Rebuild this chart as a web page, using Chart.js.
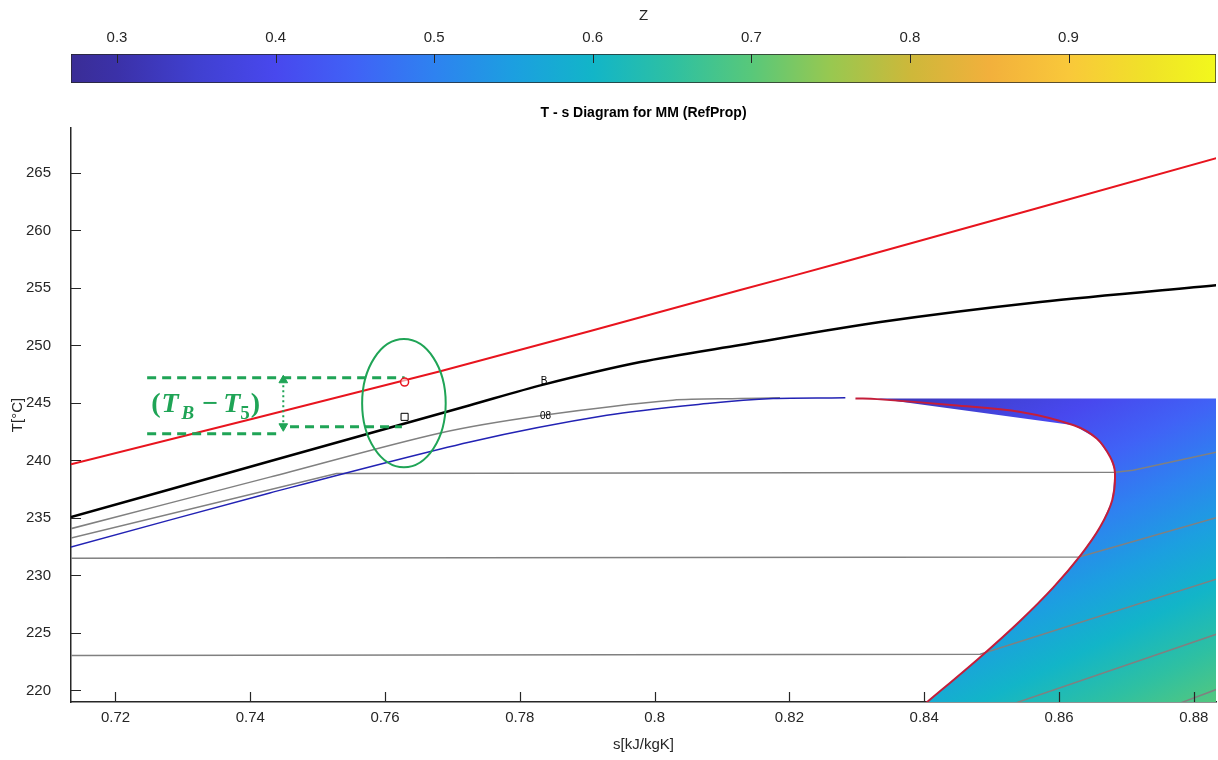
<!DOCTYPE html>
<html>
<head>
<meta charset="utf-8">
<title>T - s Diagram for MM (RefProp)</title>
<script src="https://cdn.jsdelivr.net/npm/chart.js@4.4.1/dist/chart.umd.min.js"></script>
<style>
  html, body { margin: 0; padding: 0; background: #fff; }
  .box { position: absolute; left: 0; width: 1218px; }
</style>
</head>
<body>
<div class="box" style="top:0;height:90px"><canvas id="cbar" width="1218" height="90"></canvas></div>
<div class="box" style="top:90px;height:670px"><canvas id="ts" width="1218" height="670"></canvas></div>
<script>
// ---- axes ----
const sTicks = [0.72, 0.74, 0.76, 0.78, 0.80, 0.82, 0.84, 0.86, 0.88];
const tTicks = [220, 225, 230, 235, 240, 245, 250, 255, 260, 265];
const zTicks = [0.3, 0.4, 0.5, 0.6, 0.7, 0.8, 0.9];
const sRange = [0.7134, 0.8833];
const tRange = [219.0, 268.9];
const zRange = [0.271, 0.993];

// ---- curves, s [kJ/kgK] / T [°C] ----
// saturated liquid (blue)
const liquidS = [0.7134, 0.7429, 0.7726, 0.7929, 0.8078, 0.8176, 0.8283];
const liquidT = [232.47, 237.17, 241.61, 243.93, 244.95, 245.39, 245.44];
// saturated vapour (dark red)
const vaporS = [0.8298, 0.8330, 0.8444, 0.8543, 0.8622, 0.8656, 0.8676, 0.8683, 0.8679, 0.8661, 0.8632, 0.8592, 0.8543, 0.8483, 0.8404, 0.8394];
const vaporT = [245.39, 245.33, 244.80, 244.22, 243.06, 241.91, 240.30, 238.97, 236.54, 234.21, 231.75, 228.99, 226.09, 222.90, 218.98, 218.50];
// heat source line (red)
const sourceS = [0.7134, 0.7682, 0.8127, 0.8275, 0.8836];
const sourceT = [239.67, 247.76, 254.81, 257.16, 266.32];
// working fluid isobar (black)
const cycleS = [0.7134, 0.7429, 0.7726, 0.7835, 0.7979, 0.8127, 0.8335, 0.8572, 0.8836];
const cycleT = [235.07, 239.93, 244.80, 246.59, 248.55, 250.03, 252.03, 253.77, 255.25];
// grey isobars
const isoHighS = [0.7134, 0.7429, 0.7682, 0.7835, 0.8027, 0.8127, 0.8186];
const isoHighT = [234.07, 238.55, 242.39, 243.93, 245.24, 245.38, 245.45];
const iso239S = [0.7134, 0.7528, 0.8683, 0.8710, 0.8836];
const iso239T = [233.25, 238.86, 238.97, 239.15, 240.75];
const iso231S = [0.7134, 0.8630, 0.8836];
const iso231T = [231.49, 231.60, 235.06];
const iso223S = [0.7134, 0.8483, 0.8836];
const iso223T = [223.05, 223.15, 229.72];
const isoLowS = [0.8530, 0.8836];
const isoLowT = [218.80, 224.94];
const isoLow2S = [0.8775, 0.8836];
const isoLow2T = [218.80, 220.14];

// coloured (Z) superheated zone outline
const zoneS = [0.8394, 0.8404, 0.8483, 0.8543, 0.8592, 0.8632, 0.8661, 0.8679, 0.8683, 0.8676, 0.8656, 0.8622, 0.8330, 0.8850, 0.8850];
const zoneT = [218.50, 218.98, 222.90, 226.09, 228.99, 231.75, 234.21, 236.54, 238.97, 240.30, 241.91, 243.06, 245.39, 245.39, 218.50];
// Z read at three spots of the zone
const zAnchorS = [0.8345, 0.8833, 0.8420];
const zAnchorT = [245.0, 245.2, 219.3];
const zAnchorZ = [0.32, 0.45, 0.58];

// state points B and 5
const markS = [0.7629];
const markBT = [246.81];
const mark5T = [243.79];

// (T_B - T_5) bracket
const bracketTopS = [0.7247, 0.7629];
const bracketTopT = [247.18, 247.18];
const bracketLowS = [0.7247, 0.7439];
const bracketLowT = [242.33, 242.33];
const bracketLow2S = [0.7459, 0.7625];
const bracketLow2T = [242.92, 242.92];
const arrowS = [0.7449, 0.7449];
const arrowT = [246.97, 242.97];

// small curve tags
const tagS = [0.7836, 0.7838];
const tagT = [246.92, 243.85];
const tagText = ['B', '08'];

// colormap (from the colour bar)
const cmapZ = [0.271, 0.30, 0.35, 0.40, 0.45, 0.50, 0.55, 0.60, 0.65, 0.70, 0.75, 0.80, 0.85, 0.90, 0.95, 0.993];
const cmapHex = ['#3a2d96', '#3b31a8', '#4040d0', '#4848ee', '#4062f6', '#2e82f0', '#1c9fe0', '#12b5c8', '#2ec0a2', '#58c87a', '#98c850', '#cdb83a', '#f2b03c', '#f9c83a', '#f0e228', '#f2f81c'];

const FONT = '"Liberation Sans", Arial, Helvetica, sans-serif';
const AXIS = '#262626';
const GREEN = '#1fa456';
Chart.defaults.font.family = FONT;
Chart.defaults.color = AXIS;
Chart.defaults.animation = false;

function pts(xs, ys) { return xs.map((x, i) => ({ x: x, y: ys[i] })); }
function addStops(grad) {
  cmapZ.forEach((z, i) => grad.addColorStop((z - zRange[0]) / (zRange[1] - zRange[0]), cmapHex[i]));
  return grad;
}
function fmt(v) { return String(Number(v.toFixed(2))); }

// ---------- colour bar ----------
const cbarTicks = {
  id: 'cbarTicks',
  afterDatasetsDraw(chart) {
    const { ctx, chartArea: a, scales: { x } } = chart;
    ctx.save();
    ctx.strokeStyle = AXIS; ctx.lineWidth = 1;
    ctx.beginPath();
    zTicks.forEach(v => {
      const px = Math.round(x.getPixelForValue(v)) + 0.5;
      ctx.moveTo(px, a.top); ctx.lineTo(px, a.top + 9);
    });
    ctx.stroke();
    ctx.restore();
  }
};

new Chart(document.getElementById('cbar'), {
  type: 'bar',
  data: {
    labels: ['Z'],
    datasets: [{
      data: [[zRange[0], zRange[1]]],
      backgroundColor: (c) => {
        const ch = c.chart;
        if (!ch.chartArea) return 'rgba(0,0,0,0)';
        const x = ch.scales.x;
        return addStops(ch.ctx.createLinearGradient(x.getPixelForValue(zRange[0]), 0, x.getPixelForValue(zRange[1]), 0));
      },
      borderColor: AXIS, borderWidth: 1, borderSkipped: false,
      barPercentage: 1, categoryPercentage: 1
    }]
  },
  options: {
    indexAxis: 'y', responsive: false,
    layout: { autoPadding: false, padding: { left: 71, right: 2, top: 0, bottom: 7 } },
    plugins: { legend: { display: false }, tooltip: { enabled: false } },
    scales: {
      x: {
        type: 'linear', position: 'top', min: zRange[0], max: zRange[1],
        afterBuildTicks: sc => { sc.ticks = zTicks.map(v => ({ value: v })); },
        afterFit: sc => { sc.height = 54; sc.paddingLeft = 0; sc.paddingRight = 0; },
        grid: { display: false, drawTicks: false }, border: { display: false },
        ticks: { padding: 7, font: { size: 15 }, autoSkip: false, maxRotation: 0, callback: v => fmt(v) },
        title: { display: true, text: 'Z', font: { size: 15 }, padding: { top: 7, bottom: 0 } }
      },
      y: { display: false }
    }
  },
  plugins: [cbarTicks]
});

// ---------- T - s diagram ----------
function zoneGradient(chart) {
  const { ctx, chartArea, scales } = chart;
  if (!chartArea) return 'rgba(0,0,0,0)';
  const px = zAnchorS.map(s => scales.x.getPixelForValue(s));
  const py = zAnchorT.map(t => scales.y.getPixelForValue(t));
  const dx1 = px[1] - px[0], dy1 = py[1] - py[0], dz1 = zAnchorZ[1] - zAnchorZ[0];
  const dx2 = px[2] - px[0], dy2 = py[2] - py[0], dz2 = zAnchorZ[2] - zAnchorZ[0];
  const det = dx1 * dy2 - dx2 * dy1;
  const gx = (dz1 * dy2 - dz2 * dy1) / det;
  const gy = (dx1 * dz2 - dx2 * dz1) / det;
  const g2 = gx * gx + gy * gy;
  const at = z => [px[0] + gx * (z - zAnchorZ[0]) / g2, py[0] + gy * (z - zAnchorZ[0]) / g2];
  const p0 = at(zRange[0]), p1 = at(zRange[1]);
  return addStops(ctx.createLinearGradient(p0[0], p0[1], p1[0], p1[1]));
}

function curve(xs, ys, color, width, order, extra) {
  return Object.assign({
    data: pts(xs, ys), borderColor: color, borderWidth: width,
    pointRadius: 0, fill: false, tension: 0, order: order, clip: 0
  }, extra || {});
}

const GREY = '#808080';
const datasets = [
  curve(zoneS, zoneT, 'rgba(0,0,0,0)', 0, 100, { fill: 'shape', backgroundColor: c => zoneGradient(c.chart) }),
  curve(iso239S, iso239T, GREY, 1.5, 50),
  curve(iso231S, iso231T, GREY, 1.5, 50),
  curve(iso223S, iso223T, GREY, 1.5, 50),
  curve(isoLowS, isoLowT, GREY, 1.5, 50),
  curve(isoLow2S, isoLow2T, GREY, 1.5, 50),
  curve(isoHighS, isoHighT, GREY, 1.5, 50, { tension: 0.3 }),
  curve(liquidS, liquidT, '#2222b4', 1.5, 45, { tension: 0.3 }),
  curve(vaporS, vaporT, '#c41e3a', 2, 40, { tension: 0.35 }),
  curve(sourceS, sourceT, '#e8141e', 2, 30, { tension: 0.3 }),
  curve(cycleS, cycleT, '#000000', 2.5, 20, { tension: 0.3 }),
  curve(bracketTopS, bracketTopT, GREEN, 3, 10, { borderDash: [9, 6] }),
  curve(bracketLowS, bracketLowT, GREEN, 3, 10, { borderDash: [9, 6] }),
  curve(bracketLow2S, bracketLow2T, GREEN, 3, 10, { borderDash: [9, 6] }),
  curve(arrowS, arrowT, GREEN, 2, 10, {
    borderDash: [2, 3], pointRadius: 5, pointStyle: 'triangle', pointRotation: [0, 180],
    pointBackgroundColor: GREEN, pointBorderColor: GREEN, pointBorderWidth: 1, clip: false
  }),
  curve(markS, markBT, '#e8141e', 1.5, 5, {
    showLine: false, pointRadius: 4, pointStyle: 'circle',
    pointBorderColor: '#e8141e', pointBackgroundColor: 'rgba(255,255,255,0.6)', pointBorderWidth: 1.5, clip: false
  }),
  curve(markS, mark5T, '#000000', 1, 5, {
    showLine: false, pointRadius: 5, pointStyle: 'rect',
    pointBorderColor: '#000000', pointBackgroundColor: '#ffffff', pointBorderWidth: 1, clip: false
  })
];

const deltaParts = [
  ['(', 'bold', 28, 0, 1], ['T', 'italic bold', 28, 0, 0], ['B', 'italic bold', 19, 7, 3],
  ['\u2212', 'bold', 28, 0, 5], ['T', 'italic bold', 28, 0, 0], ['5', 'bold', 19, 7, 1], [')', 'bold', 28, 0, 0]
];
const deltaS = 0.7253, deltaT = 245.09;
const ringS = 0.7628, ringT = 244.98, ringRS = 0.0062, ringRT = 5.57;

const annotate = {
  id: 'annotate',
  afterDatasetsDraw(chart) {
    const { ctx, scales: { x, y } } = chart;
    const X = v => x.getPixelForValue(v), Y = v => y.getPixelForValue(v);
    ctx.save();
    // tags on curves
    ctx.fillStyle = '#000'; ctx.font = '10px ' + FONT;
    ctx.textAlign = 'center'; ctx.textBaseline = 'middle';
    tagText.forEach((t, i) => ctx.fillText(t, X(tagS[i]), Y(tagT[i])));
    // ellipse round the state points
    ctx.strokeStyle = GREEN; ctx.lineWidth = 2;
    ctx.beginPath();
    ctx.ellipse(X(ringS), Y(ringT), Math.abs(X(ringS + ringRS) - X(ringS)),
      Math.abs(Y(ringT + ringRT) - Y(ringT)), 0, 0, Math.PI * 2);
    ctx.stroke();
    // (T_B - T_5)
    ctx.fillStyle = GREEN; ctx.textAlign = 'left'; ctx.textBaseline = 'alphabetic';
    let cx = X(deltaS);
    const base = Y(deltaT) + 10;
    deltaParts.forEach(([txt, style, size, drop, gap]) => {
      ctx.font = style + ' ' + size + 'px "Liberation Serif", "DejaVu Serif", serif';
      ctx.fillText(txt, cx + (gap > 1 ? gap : 0), base + drop);
      cx += ctx.measureText(txt).width + gap * (gap > 1 ? 2 : 1);
    });
    ctx.restore();
  },
  afterDraw(chart) {
    const { ctx, chartArea: a, scales: { x, y } } = chart;
    ctx.save();
    ctx.strokeStyle = AXIS; ctx.lineWidth = 1.2;
    ctx.beginPath();
    sTicks.forEach(v => {
      const px = Math.round(x.getPixelForValue(v)) + 0.5;
      ctx.moveTo(px, a.bottom); ctx.lineTo(px, a.bottom - 10);
    });
    tTicks.forEach(v => {
      const py = Math.round(y.getPixelForValue(v)) + 0.5;
      ctx.moveTo(a.left, py); ctx.lineTo(a.left + 10, py);
    });
    ctx.stroke();
    ctx.restore();
  }
};

new Chart(document.getElementById('ts'), {
  type: 'line',
  data: { datasets: datasets },
  options: {
    responsive: false,
    layout: { autoPadding: false, padding: { left: 0, right: 2, top: 0, bottom: 0 } },
    plugins: {
      legend: { display: false },
      tooltip: { enabled: false },
      title: {
        display: true, text: 'T - s Diagram for MM (RefProp)', fullSize: false, color: '#000',
        font: { size: 14, weight: 'bold' }, padding: { top: 14.6, bottom: 6.6 }
      }
    },
    scales: {
      x: {
        type: 'linear', min: sRange[0], max: sRange[1], z: 1,
        afterBuildTicks: sc => { sc.ticks = sTicks.map(v => ({ value: v })); },
        afterFit: sc => { sc.height = 58; sc.paddingLeft = 0; sc.paddingRight = 0; },
        grid: { display: false, drawTicks: false },
        border: { display: true, color: AXIS, width: 1.5 },
        ticks: { padding: 7, font: { size: 15 }, autoSkip: false, maxRotation: 0, callback: v => fmt(v) },
        title: { display: true, text: 's[kJ/kgK]', font: { size: 15 }, padding: { top: 0, bottom: 6 } }
      },
      y: {
        type: 'linear', min: tRange[0], max: tRange[1], z: 1,
        afterBuildTicks: sc => { sc.ticks = tTicks.map(v => ({ value: v })); },
        afterFit: sc => { sc.width = 71; sc.paddingTop = 0; sc.paddingBottom = 0; },
        grid: { display: false, drawTicks: false },
        border: { display: true, color: AXIS, width: 1.5 },
        ticks: { padding: 20, font: { size: 15 }, autoSkip: false },
        title: { display: true, text: 'T[°C]', font: { size: 15 }, padding: { top: 9, bottom: 0 } }
      }
    }
  },
  plugins: [annotate]
});
</script>
</body>
</html>
